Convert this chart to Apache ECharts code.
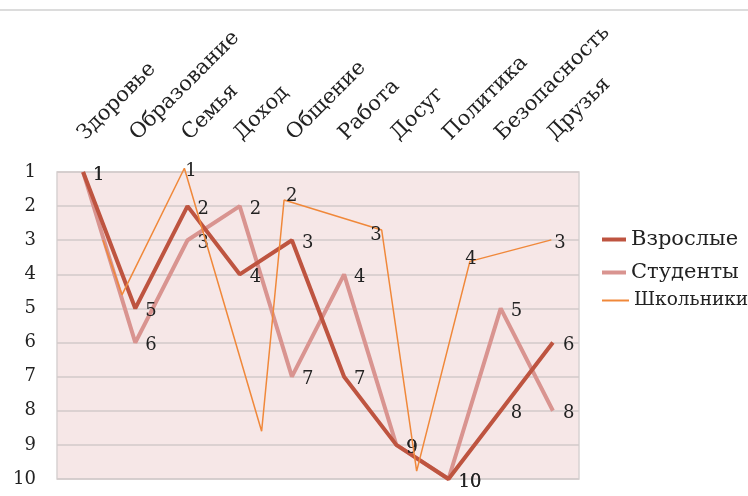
<!DOCTYPE html>
<html>
<head>
<meta charset="utf-8">
<script src="https://cdn.jsdelivr.net/npm/echarts@6/dist/echarts.min.js"></script>
<style>
html,body{margin:0;padding:0;background:#fff;}
#chart{width:748px;height:496px;}
</style>
</head>
<body>
<div id="chart"></div>
<script>
// ---- data ----
var categories = ['Здоровье','Образование','Семья','Доход','Общение','Работа','Досуг','Политика','Безопасность','Друзья'];
var seriesNames = ['Взрослые','Студенты','Школьники'];
var adults   = [1,5,2,4,3,7,9,10,8,6];
var students = [1,6,3,2,7,4,9,10,5,8];
// Школьники: hand-drawn line, vertices read as (category position, rank position)
var schoolX = [0.38, 0.745, 1.94, 3.42, 3.85, 5.72, 6.39, 7.41, 8.97];
var schoolY = [2.99, 4.60, 0.89, 8.60, 1.82, 2.70, 9.77, 3.62, 2.99];
var schoolLabels = ['', '', '1', '', '2', '3', '', '4', '3'];
var yTicks = [1,2,3,4,5,6,7,8,9,10];

// ---- styles ----
var FONT = 'DejaVu Serif';
var colors = ['#BE5440', '#D99490', '#F0883A'];
var schoolLabelStyle = [
  null, null,
  {position:'right', distance:1, offset:[0,3]},
  null,
  {position:'right', distance:2, offset:[0,-4]},
  {position:'left', distance:0, offset:[0,5]},
  null,
  {position:'inside', offset:[1,-2]},
  {position:'right', distance:3, offset:[0,3]}
];

var schoolData = schoolX.map(function(x, i){
  var item = {value:[x, schoolY[i]]};
  if (schoolLabels[i]) {
    var s = schoolLabelStyle[i];
    item.label = {show:true, formatter: schoolLabels[i], position: s.position,
      distance: s.distance == null ? 0 : s.distance, offset: s.offset};
  }
  return item;
});

var labelBase = {fontFamily: FONT, fontSize: 18, color: '#222'};

var chart = echarts.init(document.getElementById('chart'), null, {renderer:'canvas'});
chart.setOption({
  animation: false,
  backgroundColor: '#ffffff',
  graphic: [
    {type:'rect', shape:{x:0, y:9, width:748, height:2}, style:{fill:'#dcdcdc'}, silent:true}
  ],
  grid: {left:57, top:172, width:522, height:307, show:true,
    backgroundColor:'#F6E7E7', borderColor:'#D8D2D2', borderWidth:1.5},
  legend: [
    {data:[seriesNames[0]], left:602, top:229, padding:0, icon:'rect', itemWidth:24, itemHeight:4,
      textStyle:{fontFamily:FONT, fontSize:21, color:'#222'}},
    {data:[seriesNames[1]], left:602, top:262, padding:0, icon:'rect', itemWidth:24, itemHeight:4,
      textStyle:{fontFamily:FONT, fontSize:21, color:'#222'}},
    {data:[seriesNames[2]], left:602, top:291, padding:0, icon:'rect', itemWidth:27, itemHeight:2,
      textStyle:{fontFamily:FONT, fontSize:18.5, color:'#222'}}
  ],
  xAxis: [
    {type:'category', data:categories, position:'top', boundaryGap:true,
      axisLine:{show:false}, axisTick:{show:false}, splitLine:{show:false},
      axisLabel:{rotate:-45, margin:22, interval:0, verticalAlign:'bottom', align:'left',
        padding:[0,0,0,8], fontFamily:FONT, fontSize:21, color:'#222'}},
    {type:'value', min:-0.5, max:9.5, show:false}
  ],
  yAxis: {type:'value', inverse:true, min:1, max:10, interval:1,
    axisLine:{show:false}, axisTick:{show:false},
    splitLine:{show:true, lineStyle:{color:'#D2CACA', width:1.5}},
    axisLabel:{margin:21, fontFamily:FONT, fontSize:18, color:'#222',
      formatter:function(v){ return yTicks.indexOf(v) >= 0 ? String(v) : ''; }}},
  series: [
    {name:seriesNames[0], type:'line', data:adults, xAxisIndex:0,
      symbol:'circle', symbolSize:0, z:3,
      lineStyle:{color:colors[0], width:4}, itemStyle:{color:colors[0]},
      label:Object.assign({show:true, position:'right', distance:10, offset:[0,3]}, labelBase)},
    {name:seriesNames[1], type:'line', data:students, xAxisIndex:0,
      symbol:'circle', symbolSize:0, z:2,
      lineStyle:{color:colors[1], width:4}, itemStyle:{color:colors[1]},
      label:Object.assign({show:true, position:'right', distance:10, offset:[0,3]}, labelBase)},
    {name:seriesNames[2], type:'line', data:schoolData, xAxisIndex:1,
      symbol:'circle', symbolSize:0, clip:false, z:4,
      lineStyle:{color:colors[2], width:1.5}, itemStyle:{color:colors[2]},
      label:Object.assign({show:false}, labelBase)}
  ]
});
</script>
</body>
</html>
